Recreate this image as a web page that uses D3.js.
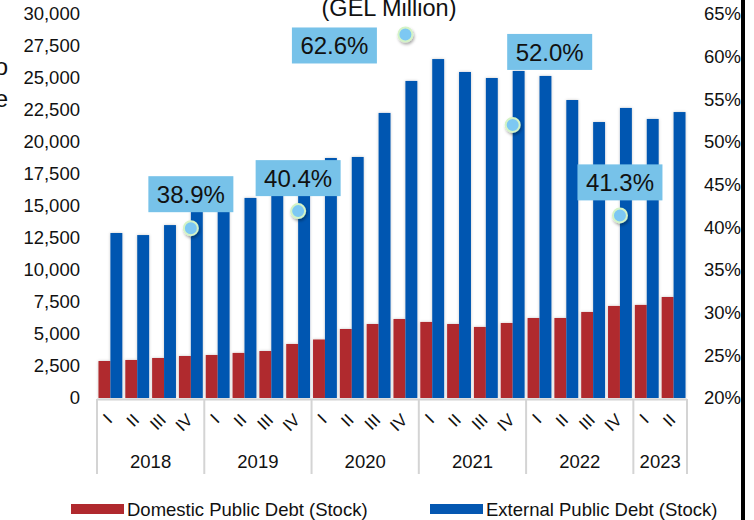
<!DOCTYPE html>
<html>
<head>
<meta charset="utf-8">
<script src="https://cdn.jsdelivr.net/npm/d3@7"></script>
<style>
  html, body { margin: 0; padding: 0; background: #fff; }
  svg { display: block; font-family: "Liberation Sans", Arial, sans-serif; }
</style>
</head>
<body>
<svg id="chart" width="754" height="520"></svg>
<script>
// ---------- data ----------
const years = ["2018", "2019", "2020", "2021", "2022", "2023"];
const quartersPerYear = [4, 4, 4, 4, 4, 2];
const quarterNames = ["I", "II", "III", "IV"];
const domesticDebt = [2890, 2970, 3125, 3280, 3360, 3520, 3670, 4220, 4570, 5390, 5780, 6170,
                      5940, 5780, 5550, 5860, 6250, 6250, 6720, 7190, 7270, 7890];
const externalDebt = [12890, 12730, 13510, 14600, 14700, 15630, 15900, 16100, 18750, 18830, 22270, 24770,
                      26480, 25470, 25000, 25550, 25160, 23280, 21560, 22660, 21800, 22340];
const ratioQuarterIndex = [3, 7, 11, 15, 19];
const ratioValues = [39.9, 41.9, 62.6, 52.0, 41.4];
const ratioLabels = ["38.9%", "40.4%", "62.6%", "52.0%", "41.3%"];
const leftTicks = d3.range(0, 30001, 2500);
const rightTicks = d3.range(20, 66, 5);
const seriesNames = ["Domestic Public Debt (Stock)", "External Public Debt (Stock)"];

// ---------- layout / style ----------
const colors = { dom: "#B0292E", ext: "#0457B1" };
const plot = { left: 97, right: 687, top: 14, bottom: 398 };
const labelOffsets = [ {dx: 0, dy: -34}, {dx: 0, dy: -33}, {dx: -71, dy: 11}, {dx: 37, dy: -73}, {dx: 0, dy: -33} ];

const quarters = [];
years.forEach((y, yi) => {
  for (let q = 0; q < quartersPerYear[yi]; q++) quarters.push({ key: y + "-" + quarterNames[q], year: y, q: quarterNames[q] });
});

const svg = d3.select("#chart");
const defs = svg.append("defs");
const f = defs.append("filter").attr("id", "barShadow").attr("x", "-60%").attr("y", "-10%").attr("width", "220%").attr("height", "120%");
f.append("feDropShadow").attr("dx", 0).attr("dy", 0).attr("stdDeviation", 1.8).attr("flood-color", "#000").attr("flood-opacity", 0.22);
const f2 = defs.append("filter").attr("id", "dotShadow").attr("x", "-80%").attr("y", "-80%").attr("width", "260%").attr("height", "260%");
f2.append("feDropShadow").attr("dx", 1).attr("dy", 2).attr("stdDeviation", 1.5).attr("flood-color", "#000").attr("flood-opacity", 0.35);

const x = d3.scaleBand().domain(quarters.map(d => d.key)).range([plot.left, plot.right]).paddingInner(0).paddingOuter(0);
const xs = d3.scaleBand().domain(["dom", "ext"]).range([0, x.bandwidth()]).paddingInner(0).paddingOuter(0.125);
const yL = d3.scaleLinear().domain([0, 30000]).range([plot.bottom, plot.top]);
const yR = d3.scaleLinear().domain([20, 65]).range([plot.bottom, plot.top]);

// cut-off side text at left edge
svg.append("text").attr("x", 8).attr("y", 75).attr("text-anchor", "end").attr("font-size", 24).attr("fill", "#111").text("ratio");
svg.append("text").attr("x", 8).attr("y", 107).attr("text-anchor", "end").attr("font-size", 24).attr("fill", "#111").text("scale");

// title
svg.append("text").attr("x", 389).attr("y", 16).attr("text-anchor", "middle").attr("font-size", 23.5).attr("fill", "#111").text("(GEL Million)");

// axes
const axL = svg.append("g").attr("transform", `translate(88,0)`)
  .call(d3.axisLeft(yL).tickValues(leftTicks).tickFormat(d3.format(",")).tickSize(0).tickPadding(8));
axL.select(".domain").remove();
axL.selectAll("text").attr("font-size", 18.5).attr("fill", "#111").attr("font-family", "Liberation Sans, Arial, sans-serif");

const axR = svg.append("g").attr("transform", `translate(696,0)`)
  .call(d3.axisRight(yR).tickValues(rightTicks).tickFormat(d => d + "%").tickSize(0).tickPadding(8));
axR.select(".domain").remove();
axR.selectAll("text").attr("font-size", 18.5).attr("fill", "#111").attr("font-family", "Liberation Sans, Arial, sans-serif");

// bars
const rows = quarters.map((q, i) => ({ key: q.key, dom: domesticDebt[i], ext: externalDebt[i] }));
const gBars = svg.append("g").attr("filter", "url(#barShadow)");
["dom", "ext"].forEach(s => {
  gBars.selectAll("rect." + s).data(rows).enter().append("rect")
    .attr("class", s)
    .attr("x", d => x(d.key) + xs(s))
    .attr("width", xs.bandwidth())
    .attr("y", d => yL(d[s]))
    .attr("height", d => yL(0) - yL(d[s]))
    .attr("fill", colors[s]);
});

// category axis box
svg.append("line").attr("x1", plot.left).attr("x2", plot.right).attr("y1", plot.bottom + 1.5).attr("y2", plot.bottom + 1.5)
  .attr("stroke", "#d4d4d4").attr("stroke-width", 2);
const yearBounds = [];
let acc = 0;
years.forEach((y, yi) => {
  const first = quarters[acc].key;
  const last = quarters[acc + quartersPerYear[yi] - 1].key;
  yearBounds.push({ year: y, x0: x(first), x1: x(last) + x.bandwidth() });
  acc += quartersPerYear[yi];
});
const sepX = [yearBounds[0].x0].concat(yearBounds.map(d => d.x1));
svg.selectAll("line.sep").data(sepX).enter().append("line")
  .attr("x1", d => d).attr("x2", d => d).attr("y1", plot.bottom + 1).attr("y2", 474)
  .attr("stroke", "#d4d4d4").attr("stroke-width", 2);

svg.selectAll("text.q").data(quarters).enter().append("text")
  .attr("transform", d => `translate(${x(d.key) + x.bandwidth() / 2 + 3},421) rotate(-45)`)
  .attr("text-anchor", "end")
  .attr("font-size", 17).attr("fill", "#111")
  .text(d => d.q);

svg.selectAll("text.yr").data(yearBounds).enter().append("text")
  .attr("x", d => (d.x0 + d.x1) / 2).attr("y", 468)
  .attr("text-anchor", "middle").attr("font-size", 18.5).attr("fill", "#111")
  .text(d => d.year);

// ratio markers
const ratios = ratioValues.map((v, i) => ({ v, label: ratioLabels[i], key: quarters[ratioQuarterIndex[i]].key, off: labelOffsets[i] }));
svg.selectAll("circle.r").data(ratios).enter().append("circle")
  .attr("cx", d => x(d.key) + x.bandwidth() / 2)
  .attr("cy", d => yR(d.v))
  .attr("r", 7)
  .attr("fill", "#7DC8F3").attr("stroke", "#D4F3C6").attr("stroke-width", 2)
  .attr("filter", "url(#dotShadow)");

const lab = svg.selectAll("g.lab").data(ratios).enter().append("g")
  .attr("transform", d => `translate(${x(d.key) + x.bandwidth() / 2 + d.off.dx},${yR(d.v) + d.off.dy})`);
lab.append("rect").attr("x", -42.5).attr("y", -18).attr("width", 85).attr("height", 36).attr("fill", "#77C2E9");
lab.append("text").attr("text-anchor", "middle").attr("dy", "0.36em").attr("font-size", 24).attr("fill", "#111").text(d => d.label);

// legend
const legend = [
  { name: seriesNames[0], color: colors.dom, x: 71 },
  { name: seriesNames[1], color: colors.ext, x: 430 }
];
const lg = svg.selectAll("g.lg").data(legend).enter().append("g").attr("transform", d => `translate(${d.x},0)`);
lg.append("rect").attr("x", 0).attr("y", 504).attr("width", 53).attr("height", 10).attr("fill", d => d.color);
lg.append("text").attr("x", 56).attr("y", 516).attr("font-size", 18.5).attr("fill", "#111").text(d => d.name);

// right border bar
svg.append("rect").attr("x", 741).attr("y", 0).attr("width", 4).attr("height", 520).attr("fill", "#000");
</script>
</body>
</html>
